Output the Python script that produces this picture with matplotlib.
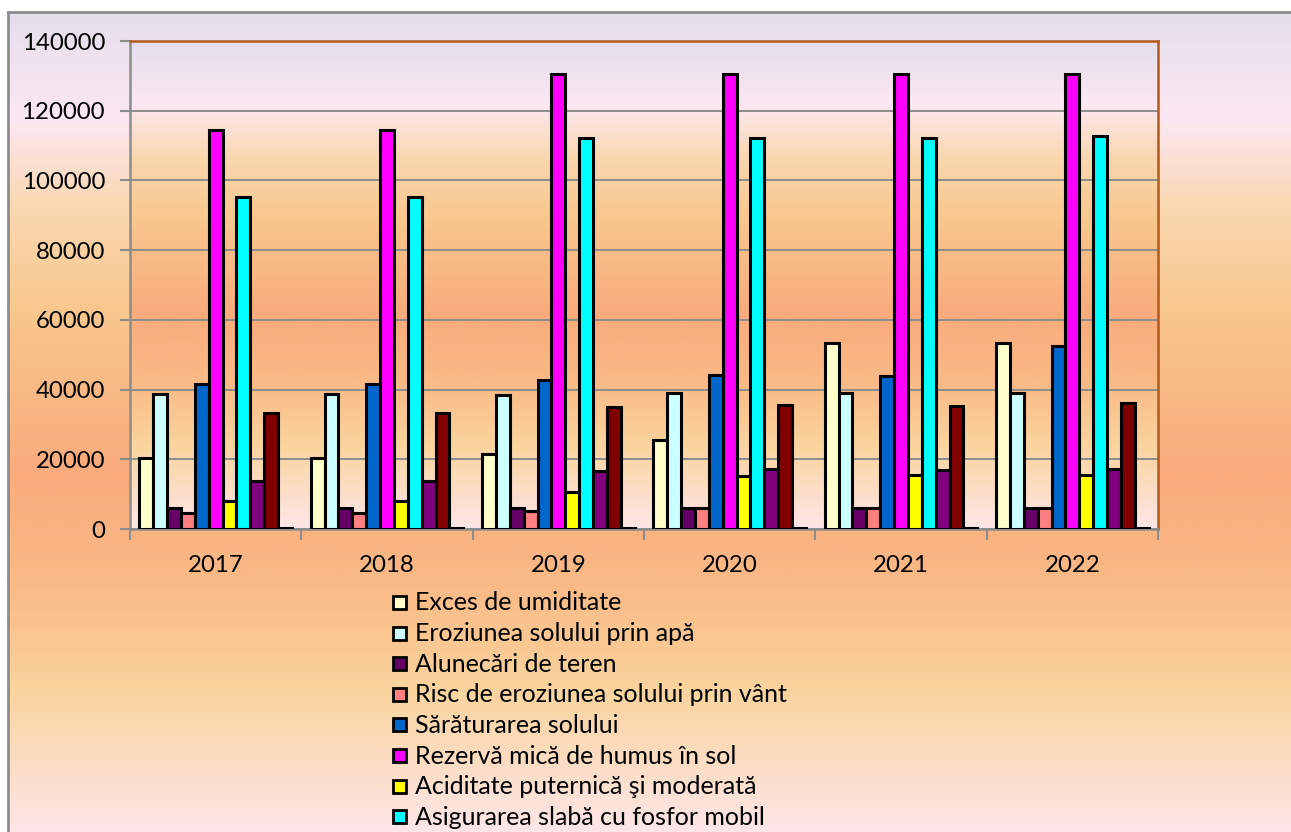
import matplotlib.pyplot as plt
import numpy as np
from matplotlib.patches import Rectangle

# date
ani = ['2017', '2018', '2019', '2020', '2021', '2022']

serii = [
    'Exces de umiditate',
    'Eroziunea solului prin apă',
    'Alunecări de teren',
    'Risc de eroziunea solului prin vânt',
    'Sărăturarea solului',
    'Rezervă mică de humus în sol',
    'Aciditate puternică şi moderată',
    'Asigurarea slabă cu fosfor mobil',
    'Asigurarea slabă cu potasiu mobil',
    'Compactarea solului',
    'Poluarea solului',
]

exces = [20300, 20300, 21500, 25500, 53400, 53400]
eroziune_apa = [38600, 38600, 38500, 39100, 39100, 39100]
alunecari = [5900, 5900, 5900, 5900, 5900, 5900]
risc_vant = [4500, 4500, 5200, 5900, 5900, 5900]
saraturare = [41600, 41600, 42700, 44100, 44000, 52500]
humus = [114500, 114500, 130500, 130500, 130500, 130500]
aciditate = [8100, 8000, 10500, 15300, 15500, 15500]
fosfor = [95300, 95300, 112300, 112300, 112300, 112700]
potasiu = [13800, 13800, 16700, 17100, 16900, 17100]
compactare = [33400, 33400, 34900, 35500, 35300, 36200]
poluare = [200, 200, 200, 200, 200, 200]

valori = [exces, eroziune_apa, alunecari, risc_vant, saraturare, humus,
          aciditate, fosfor, potasiu, compactare, poluare]

culori = ['#FFFFCC', '#CCFFFF', '#660066', '#FF8080', '#0066CC', '#FF00FF',
          '#FFFF00', '#00FFFF', '#800080', '#800000', '#008080']

plt.rcParams['font.family'] = ['Lato', 'DejaVu Sans']
FS = 17.3
FS_LEG = 18


def gradient(n=400):
    # fundal "apus de soare"
    stops = [0.0, 0.13, 0.24, 0.36, 0.56, 0.70, 0.83, 1.0]
    cols = np.array([
        (229, 222, 236), (252, 232, 242), (250, 215, 175), (248, 200, 142),
        (249, 171, 124), (249, 186, 134), (250, 212, 158), (253, 230, 232),
    ]) / 255.0
    t = np.linspace(0, 1, n)
    img = np.stack([np.interp(t, stops, cols[:, c]) for c in range(3)], axis=-1)
    return img[:, None, :]


W, H = 1291, 832
fig = plt.figure(figsize=(W / 100, H / 100), dpi=100)
fig.patch.set_facecolor('white')

# fundal exterior
bg = fig.add_axes([8 / W, 0, (W - 8) / W, (H - 12) / H], zorder=-10)
bg.imshow(gradient(), aspect='auto', extent=[0, 1, 0, 1], transform=bg.transAxes)
bg.set_xticks([])
bg.set_yticks([])
for s in ['right', 'bottom']:
    bg.spines[s].set_visible(False)
for s in ['left', 'top']:
    bg.spines[s].set_color('#8C8C8C')
    bg.spines[s].set_linewidth(2)

# grafic
ax = fig.add_axes([130 / W, (H - 529) / H, (1158 - 130) / W, 488 / H])
ax.set_facecolor('none')
ax.imshow(gradient(), aspect='auto', extent=[0, 1, 0, 1], transform=ax.transAxes, zorder=0)

x = np.arange(len(ani))
w = 0.081
n = len(serii)
for k in range(n):
    ax.bar(x + (k - (n - 1) / 2) * w, valori[k], width=w, color=culori[k],
           edgecolor='black', linewidth=2.2, zorder=3)

ax.set_xlim(-0.5, len(ani) - 0.5)
ax.set_ylim(0, 140000)
ax.set_yticks(np.arange(0, 140001, 20000))
ax.yaxis.grid(True, color='#8C8C8C', linewidth=1.4, zorder=1)
ax.set_axisbelow(True)

ax.set_xticks(x)
ax.set_xticklabels(ani)
ax.set_xticks(np.arange(-0.5, len(ani), 1), minor=True)
ax.tick_params(axis='x', which='major', length=0, pad=19, labelsize=FS)
ax.tick_params(axis='x', which='minor', length=8, width=1.5, color='#8C8C8C')
ax.tick_params(axis='y', length=7, width=1.5, color='#8C8C8C', pad=11, labelsize=FS)

for s in ['left', 'bottom']:
    ax.spines[s].set_color('#8C8C8C')
    ax.spines[s].set_linewidth(1.8)
for s in ['top', 'right']:
    ax.spines[s].set_color('#B05A1E')
    ax.spines[s].set_linewidth(1.8)

# legenda
lx, ly, pas = 393, 602, 30.6
for k, nume in enumerate(serii):
    yc = ly + k * pas
    fig.patches.append(Rectangle((lx / W, 1 - (yc + 7) / H), 13 / W, 13 / H,
                                 transform=fig.transFigure, facecolor=culori[k],
                                 edgecolor='black', linewidth=2))
    fig.text((lx + 22) / W, 1 - (yc + 1) / H, nume, fontsize=FS_LEG, va='center', ha='left')

fig.savefig('out.png', dpi=100)
